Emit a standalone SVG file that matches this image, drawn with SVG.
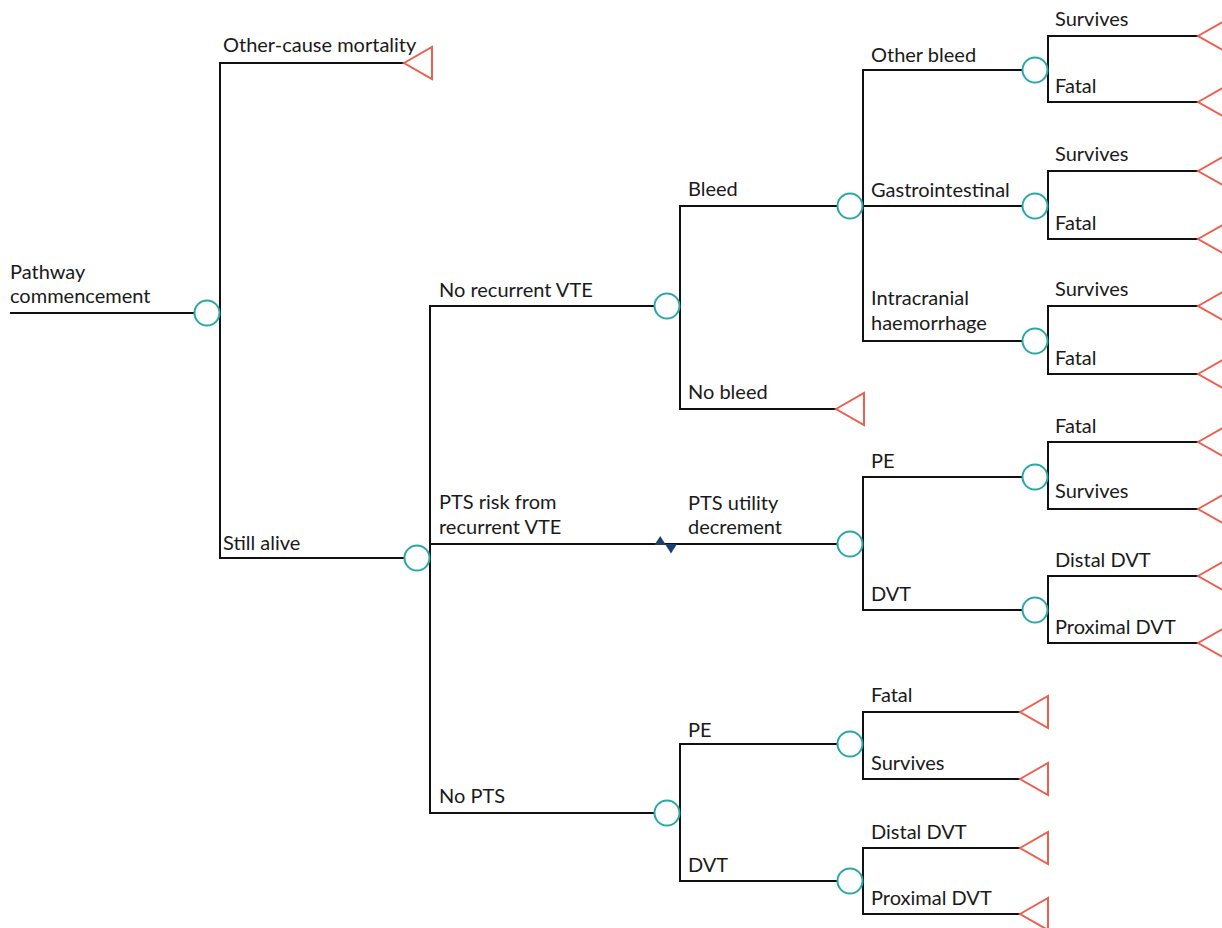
<svg xmlns="http://www.w3.org/2000/svg" width="1222" height="928" viewBox="0 0 1222 928">
<defs>
<style>
.ln{fill:none;stroke:#111;stroke-width:2}
.ch{fill:#fff;stroke:#2aa7a7;stroke-width:2}
.te{fill:#fff;stroke:#ee5e4f;stroke-width:2;stroke-linejoin:miter}
text{font-family:Lato,"Open Sans","Liberation Sans",sans-serif;font-size:20px;fill:#1a1a1a}
</style>
<polygon id="tri" class="te" points="0,0 28,-16 28,16"/>
</defs>
<rect width="1222" height="928" fill="#fff"/>
<g id="connectors">
<path class="ln" d="M10,313 H194.5"/>
<path class="ln" d="M404,63 H220 V558 H404.5"/>
<path class="ln" d="M654.5,306 H430 V813 H654.5 M430,544 H837.5"/>
<path class="ln" d="M837.5,206 H680 V409 H836"/>
<path class="ln" d="M1022.5,70 H863 V341 H1022.5 M863,206 H1022.5"/>
<path class="ln" d="M1198,36 H1048 V102 H1198"/>
<path class="ln" d="M1198,171 H1048 V239 H1198"/>
<path class="ln" d="M1198,306 H1048 V374 H1198"/>
<path class="ln" d="M1022.5,477 H863 V610 H1022.5"/>
<path class="ln" d="M1198,442 H1048 V509 H1198"/>
<path class="ln" d="M1198,576 H1048 V643 H1198"/>
<path class="ln" d="M837.5,744 H680 V881 H837.5"/>
<path class="ln" d="M1020,712 H863 V779 H1020"/>
<path class="ln" d="M1020,848 H863 V914 H1020"/>
<polygon points="654.5,545 666,545 660.2,536" fill="#1e3f6e"/>
<polygon points="665,544 677,544 671,553.5" fill="#1e3f6e"/>
</g>
<g id="n-root"><circle class="ch" cx="207" cy="313" r="12.5"/><text x="10" y="279">Pathway</text><text x="10" y="303">commencement</text></g>
<g id="n-other-cause"><use href="#tri" x="404" y="63"/><text x="223" y="52">Other-cause mortality</text></g>
<g id="n-still-alive"><circle class="ch" cx="417" cy="558" r="12.5"/><text x="223" y="550">Still alive</text></g>
<g id="n-no-recurrent"><circle class="ch" cx="667" cy="306" r="12.5"/><text x="439" y="297">No recurrent VTE</text></g>
<g id="n-pts-risk"><circle class="ch" cx="850" cy="544" r="12.5"/><text x="439" y="509">PTS risk from</text><text x="439" y="534">recurrent VTE</text><text x="688" y="510">PTS utility</text><text x="688" y="534">decrement</text></g>
<g id="n-no-pts"><circle class="ch" cx="667" cy="813" r="12.5"/><text x="439" y="803">No PTS</text></g>
<g id="n-bleed"><circle class="ch" cx="850" cy="206" r="12.5"/><text x="688" y="196">Bleed</text></g>
<g id="n-no-bleed"><use href="#tri" x="836" y="409"/><text x="688" y="399">No bleed</text></g>
<g id="n-other-bleed"><circle class="ch" cx="1035" cy="70" r="12.5"/><text x="871" y="62">Other bleed</text></g>
<g id="n-gi"><circle class="ch" cx="1035" cy="206" r="12.5"/><text x="871" y="197">Gastrointestinal</text></g>
<g id="n-ich"><circle class="ch" cx="1035" cy="341" r="12.5"/><text x="871" y="305">Intracranial</text><text x="871" y="330">haemorrhage</text></g>
<g id="n-ob-surv"><use href="#tri" x="1198" y="36"/><text x="1055" y="26">Survives</text></g>
<g id="n-ob-fatal"><use href="#tri" x="1198" y="102"/><text x="1055" y="93">Fatal</text></g>
<g id="n-gi-surv"><use href="#tri" x="1198" y="171"/><text x="1055" y="161">Survives</text></g>
<g id="n-gi-fatal"><use href="#tri" x="1198" y="239"/><text x="1055" y="230">Fatal</text></g>
<g id="n-ich-surv"><use href="#tri" x="1198" y="306"/><text x="1055" y="296">Survives</text></g>
<g id="n-ich-fatal"><use href="#tri" x="1198" y="374"/><text x="1055" y="365">Fatal</text></g>
<g id="n-pts-pe"><circle class="ch" cx="1035" cy="477" r="12.5"/><text x="871" y="468">PE</text></g>
<g id="n-pts-dvt"><circle class="ch" cx="1035" cy="610" r="12.5"/><text x="871" y="601">DVT</text></g>
<g id="n-pts-pe-fatal"><use href="#tri" x="1198" y="442"/><text x="1055" y="433">Fatal</text></g>
<g id="n-pts-pe-surv"><use href="#tri" x="1198" y="509"/><text x="1055" y="498">Survives</text></g>
<g id="n-pts-distal"><use href="#tri" x="1198" y="576"/><text x="1055" y="567">Distal DVT</text></g>
<g id="n-pts-proximal"><use href="#tri" x="1198" y="643"/><text x="1055" y="634">Proximal DVT</text></g>
<g id="n-nopts-pe"><circle class="ch" cx="850" cy="744" r="12.5"/><text x="688" y="737">PE</text></g>
<g id="n-nopts-dvt"><circle class="ch" cx="850" cy="881" r="12.5"/><text x="688" y="872">DVT</text></g>
<g id="n-nopts-pe-fatal"><use href="#tri" x="1020" y="712"/><text x="871" y="702">Fatal</text></g>
<g id="n-nopts-pe-surv"><use href="#tri" x="1020" y="779"/><text x="871" y="770">Survives</text></g>
<g id="n-nopts-distal"><use href="#tri" x="1020" y="848"/><text x="871" y="839">Distal DVT</text></g>
<g id="n-nopts-proximal"><use href="#tri" x="1020" y="914"/><text x="871" y="905">Proximal DVT</text></g>
</svg>
